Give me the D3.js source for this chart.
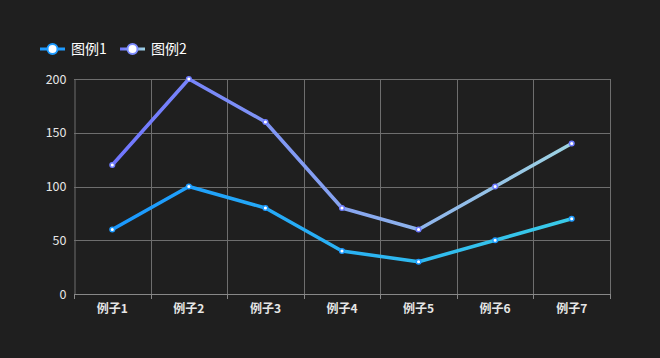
<!DOCTYPE html>
<html><head><meta charset="utf-8">
<script src="https://cdn.jsdelivr.net/npm/d3@7"></script>
<style>
html,body{margin:0;padding:0;background:#1f1f1f;}
svg{display:block;}
</style></head>
<body>
<svg id="c" width="660" height="358"></svg>
<script>
const categories = ["例子1","例子2","例子3","例子4","例子5","例子6","例子7"];
const seriesNames = ["图例1","图例2"];
const series1 = [60,100,80,40,30,50,70];
const series2 = [120,200,160,80,60,100,140];
const yTicks = [0,50,100,150,200];

const W=660,H=358;
const m={l:74,r:50,t:79,b:64};
const svg=d3.select("#c");
svg.append("rect").attr("width",W).attr("height",H).attr("fill","#1f1f1f");
const x=d3.scaleBand().domain(categories).range([m.l,W-m.r]);
const y=d3.scaleLinear().domain([0,200]).range([H-m.b,m.t]);
const font="'Microsoft YaHei','Noto Sans CJK SC',sans-serif";

const defs=svg.append("defs");
function grad(id,c0,c1){
  const g=defs.append("linearGradient").attr("id",id).attr("gradientUnits","userSpaceOnUse")
   .attr("x1",x(categories[0])+x.bandwidth()/2).attr("x2",x(categories[6])+x.bandwidth()/2).attr("y1",0).attr("y2",0);
  g.append("stop").attr("offset",0).attr("stop-color",c0);
  g.append("stop").attr("offset",1).attr("stop-color",c1);
}
grad("g1","#1a98ff","#3acbe8");
grad("g2","#7075ff","#9dd3e2");
const lg=defs.append("linearGradient").attr("id","lg2");
lg.append("stop").attr("offset",0).attr("stop-color","#7075ff");
lg.append("stop").attr("offset",1).attr("stop-color","#9dd3e2");

// grid
const grid=svg.append("g");
grid.selectAll("line.h").data(yTicks.slice(1)).join("line")
 .attr("x1",m.l).attr("x2",W-m.r).attr("y1",d=>Math.round(y(d))+0.5).attr("y2",d=>Math.round(y(d))+0.5)
 .attr("stroke","#6e6e6e").attr("stroke-width",1);
const bounds=categories.map(c=>x(c)).concat([W-m.r]);
grid.selectAll("line.v").data(bounds.slice(1)).join("line")
 .attr("x1",d=>Math.round(d)+0.5).attr("x2",d=>Math.round(d)+0.5).attr("y1",m.t).attr("y2",H-m.b)
 .attr("stroke","#6e6e6e").attr("stroke-width",1);

// y axis
const ya=svg.append("g").attr("transform",`translate(${m.l+0.5},0)`)
 .call(d3.axisLeft(y).tickValues(yTicks).tickSize(0).tickPadding(8));
ya.select(".domain").attr("stroke","#6e6e6e");
ya.selectAll("text").attr("fill","#e6e6e6").attr("font-size",12.5).attr("font-family",font);

// x axis
const xa=svg.append("g").attr("transform",`translate(0,${Math.round(y(0))+0.5})`)
 .call(d3.axisBottom(x).tickSize(0).tickPadding(10));
xa.select(".domain").attr("stroke","#888").attr("d",`M${m.l},0H${W-m.r}`);
xa.selectAll("text").attr("fill","#e6e6e6").attr("font-size",12).attr("font-weight","bold").attr("font-family",font);
svg.append("g").selectAll("line").data(bounds).join("line")
 .attr("x1",d=>Math.round(d)+0.5).attr("x2",d=>Math.round(d)+0.5)
 .attr("y1",Math.round(y(0))).attr("y2",Math.round(y(0))+5).attr("stroke","#888");

const cx=c=>x(c)+x.bandwidth()/2;
const line=d3.line().x((d,i)=>cx(categories[i])).y(d=>y(d));
const data=[{v:series1,g:"url(#g1)",pc:"#1e9bff"},{v:series2,g:"url(#g2)",pc:"#6f7cff"}];
data.forEach(s=>{
  svg.append("path").attr("d",line(s.v)).attr("fill","none").attr("stroke",s.g).attr("stroke-width",3.5).attr("stroke-linejoin","round");
  svg.append("g").selectAll("circle").data(s.v).join("circle")
   .attr("cx",(d,i)=>cx(categories[i])).attr("cy",d=>y(d)).attr("r",2.3)
   .attr("fill","#ffffff").attr("stroke",s.pc).attr("stroke-width",1.5);
});

// legend
const leg=[{name:seriesNames[0],x:40,c:"#1e9bff",stroke:"#1e9bff"},{name:seriesNames[1],x:120,c:"url(#lg2)",stroke:"#7d8cff"}];
leg.forEach(l=>{
  const g=svg.append("g").attr("transform",`translate(${l.x},49)`);
  g.append("rect").attr("x",0).attr("y",-1.5).attr("width",25).attr("height",3).attr("fill",l.c);
  g.append("circle").attr("cx",12.5).attr("cy",0).attr("r",5).attr("fill","#fff").attr("stroke",l.stroke).attr("stroke-width",2);
  g.append("text").attr("x",31).attr("y",5).attr("fill","#ffffff").attr("font-size",14).attr("font-family",font).text(l.name);
});
</script>
</body></html>
